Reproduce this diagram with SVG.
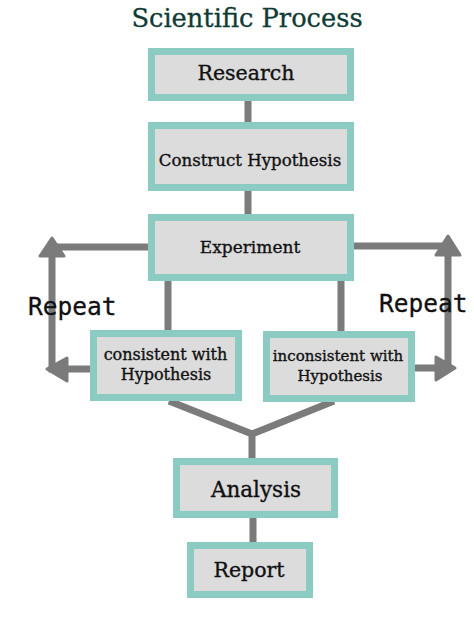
<svg xmlns="http://www.w3.org/2000/svg" width="474" height="632" viewBox="0 0 474 632">
<style>
.box{fill:#dcdcdc;stroke:#8ccbc2;stroke-width:7}
.lbl{font-family:"DejaVu Serif","Liberation Serif",serif;fill:#111;text-anchor:middle;stroke:#111;stroke-width:0.35}
.ttl{font-family:"DejaVu Serif","Liberation Serif",serif;fill:#0f3b35;text-anchor:middle;font-size:25.7px;stroke:#0f3b35;stroke-width:0.3}
.rep{font-family:"DejaVu Sans Mono","Liberation Mono",monospace;fill:#111;font-size:24.5px;stroke:#111;stroke-width:0.3}
.ln{fill:none;stroke:#7b7b7b;stroke-width:7}
.ah{fill:#7b7b7b;stroke:#7b7b7b;stroke-width:3;stroke-linejoin:round}
</style>
<rect width="474" height="632" fill="#fff"/>
<text x="247" y="27" class="ttl">Scientific Process</text>
<g id="connectors">
<path class="ln" d="M248 101V122M248 191V214M168 281V330M341 281V331"/>
<path class="ln" d="M148 247H52V369H90"/>
<path class="ln" d="M354 246H448V368H415"/>
<path class="ln" d="M169 401L252 434L334 401M252 433V458M253 518V542"/>
<polygon class="ah" points="52,238 40,256 64,256"/>
<polygon class="ah" points="47,369 67,358 67,381"/>
<polygon class="ah" points="448,236 436,255 460,255"/>
<polygon class="ah" points="455,368 436,357 436,380"/>
</g>
<g id="research"><rect class="box" x="151.5" y="51.5" width="199" height="46"/><text class="lbl" x="246" y="80" font-size="20.5">Research</text></g>
<g id="construct"><rect class="box" x="151.5" y="125.5" width="199" height="62"/><text class="lbl" x="250" y="166" font-size="16.6">Construct Hypothesis</text></g>
<g id="experiment"><rect class="box" x="151.5" y="217.5" width="199" height="60"/><text class="lbl" x="250" y="253" font-size="17">Experiment</text></g>
<g id="consistent"><rect class="box" x="93.5" y="333.5" width="145" height="64"/><text class="lbl" x="165.5" y="360" font-size="16">consistent with</text><text class="lbl" x="166" y="380" font-size="16">Hypothesis</text></g>
<g id="inconsistent"><rect class="box" x="266.5" y="334.5" width="145" height="64"/><text class="lbl" x="338" y="361" font-size="15">inconsistent with</text><text class="lbl" x="340" y="381" font-size="15">Hypothesis</text></g>
<g id="analysis"><rect class="box" x="176.5" y="461.5" width="158" height="53"/><text class="lbl" x="256" y="497" font-size="21.5">Analysis</text></g>
<g id="report"><rect class="box" x="190.5" y="545.5" width="119" height="49"/><text class="lbl" x="249" y="577" font-size="20.5">Report</text></g>
<text class="rep" x="28" y="315">Repeat</text>
<text class="rep" x="379" y="312">Repeat</text>
</svg>
